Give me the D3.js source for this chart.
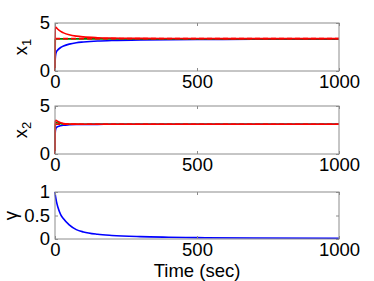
<!DOCTYPE html>
<html>
<head>
<meta charset="utf-8">
<script src="https://cdn.jsdelivr.net/npm/d3@7"></script>
<style>
  body { margin: 0; background: #fff; }
  text { font-family: "Liberation Sans", Arial, sans-serif; }
</style>
</head>
<body>
<div id="chart"></div>
<script>
// data
var x1Time = [0, 1, 3, 5, 10, 20, 30, 50, 75, 100, 150, 200, 300, 500, 700, 1000];
var x1Red = [0, 4.6, 4.55, 4.5, 4.35, 4.12, 3.97, 3.77, 3.63, 3.55, 3.47, 3.43, 3.4, 3.38, 3.37, 3.37];
var x1Green = [0, 3.3, 3.33, 3.35, 3.35, 3.35, 3.35, 3.35, 3.35, 3.35, 3.35, 3.35, 3.35, 3.35, 3.35, 3.35];
var x1Blue = [0, 1.3, 1.8, 2.0, 2.2, 2.45, 2.6, 2.8, 2.95, 3.02, 3.12, 3.18, 3.24, 3.28, 3.3, 3.31];
var x1Ref = [3.37, 3.37, 3.37, 3.37, 3.37, 3.37, 3.37, 3.37, 3.37, 3.37, 3.37, 3.37, 3.37, 3.37, 3.37, 3.37];

var x2Red = [0, 3.4, 3.5, 3.48, 3.38, 3.25, 3.18, 3.13, 3.11, 3.1, 3.1, 3.1, 3.1, 3.1, 3.1, 3.1];
var x2Green = [0, 3.0, 3.25, 3.28, 3.22, 3.15, 3.12, 3.1, 3.1, 3.1, 3.1, 3.1, 3.1, 3.1, 3.1, 3.1];
var x2Blue = [0, 2.3, 2.65, 2.75, 2.85, 2.95, 3.0, 3.04, 3.07, 3.08, 3.09, 3.1, 3.1, 3.1, 3.1, 3.1];
var x2Ref = [3.1, 3.1, 3.1, 3.1, 3.1, 3.1, 3.1, 3.1, 3.1, 3.1, 3.1, 3.1, 3.1, 3.1, 3.1, 3.1];

var gammaTime = [0, 2, 5, 10, 20, 30, 50, 75, 100, 150, 200, 300, 400, 500, 700, 1000];
var gammaVal = [1, 0.9, 0.8, 0.68, 0.52, 0.43, 0.3, 0.2, 0.15, 0.1, 0.075, 0.05, 0.038, 0.03, 0.02, 0.015];

var xTicks = [0, 500, 1000];

var svgWidth = 374;
var svgHeight = 281;

var svg = d3.select("#chart")
  .append("svg")
  .attr("width", svgWidth)
  .attr("height", svgHeight);

var left = 55, right = 339;
var fontSize = "18.5px";

var xScale = d3.scaleLinear().domain([0, 1000]).range([left, right]);

var panels = [
  { top: 23, bottom: 71, yMax: 5, yTicks: [0, 5], label: "x", sub: "1",
    series: [
      { t: x1Time, v: x1Blue, color: "#0000ff" },
      { t: x1Time, v: x1Green, color: "#008000" },
      { t: x1Time, v: x1Red, color: "#ff0000" },
      { t: x1Time, v: x1Ref, color: "#ff0000", dash: "5,3" }
    ] },
  { top: 106, bottom: 154, yMax: 5, yTicks: [0, 5], label: "x", sub: "2",
    series: [
      { t: x1Time, v: x2Blue, color: "#0000ff" },
      { t: x1Time, v: x2Green, color: "#008000" },
      { t: x1Time, v: x2Red, color: "#ff0000" },
      { t: x1Time, v: x2Ref, color: "#ff0000", dash: "5,3" }
    ] },
  { top: 192, bottom: 239, yMax: 1, yTicks: [0, 0.5, 1], label: "γ", sub: "",
    series: [
      { t: gammaTime, v: gammaVal, color: "#0000ff" }
    ] }
];

panels.forEach(function(p) {
  var yScale = d3.scaleLinear().domain([0, p.yMax]).range([p.bottom, p.top]);
  var g = svg.append("g");

  // lines
  p.series.forEach(function(s) {
    var line = d3.line()
      .x(function(d, i) { return xScale(s.t[i]); })
      .y(function(d) { return yScale(d); })
      .curve(d3.curveMonotoneX);
    g.append("path")
      .datum(s.v)
      .attr("fill", "none")
      .attr("stroke", s.color)
      .attr("stroke-width", 1.6)
      .attr("stroke-dasharray", s.dash || null)
      .attr("d", line);
  });

  // box
  g.append("rect")
    .attr("x", left)
    .attr("y", p.top)
    .attr("width", right - left)
    .attr("height", p.bottom - p.top)
    .attr("fill", "none")
    .attr("stroke", "#8c8c8c")
    .attr("stroke-width", 1);

  // axes with inward ticks
  var bottomAxis = d3.axisBottom(xScale).tickValues(xTicks).tickSize(-3).tickPadding(4).tickFormat(d3.format("d"));
  var topAxis = d3.axisTop(xScale).tickValues(xTicks).tickSize(-3).tickFormat("");
  var leftAxis = d3.axisLeft(yScale).tickValues(p.yTicks).tickSize(-3).tickPadding(5).tickFormat(function(d) { return d; });
  var rightAxis = d3.axisRight(yScale).tickValues(p.yTicks).tickSize(-3).tickFormat("");

  [
    g.append("g").attr("transform", "translate(0," + p.bottom + ")").call(bottomAxis),
    g.append("g").attr("transform", "translate(0," + p.top + ")").call(topAxis),
    g.append("g").attr("transform", "translate(" + left + ",0)").call(leftAxis),
    g.append("g").attr("transform", "translate(" + right + ",0)").call(rightAxis)
  ].forEach(function(ax) {
    ax.select(".domain").remove();
    ax.selectAll(".tick line").attr("stroke", "#8c8c8c");
    ax.selectAll("text")
      .attr("fill", "#000")
      .style("font-size", fontSize)
      .style("font-family", "Liberation Sans, Arial, sans-serif");
  });

  // y label
  var lab = svg.append("text")
    .attr("transform", "translate(" + (p.sub ? 27 : 17) + "," + ((p.top + p.bottom) / 2) + ") rotate(-90)")
    .attr("text-anchor", "middle")
    .style("font-size", fontSize)
    .attr("fill", "#000");
  lab.append("tspan").text(p.label);
  if (p.sub) {
    lab.append("tspan").attr("dy", 4).style("font-size", "13px").text(p.sub);
  }
});

svg.append("text")
  .attr("x", (left + right) / 2)
  .attr("y", 277)
  .attr("text-anchor", "middle")
  .style("font-size", fontSize)
  .attr("fill", "#000")
  .text("Time (sec)");
</script>
</body>
</html>
